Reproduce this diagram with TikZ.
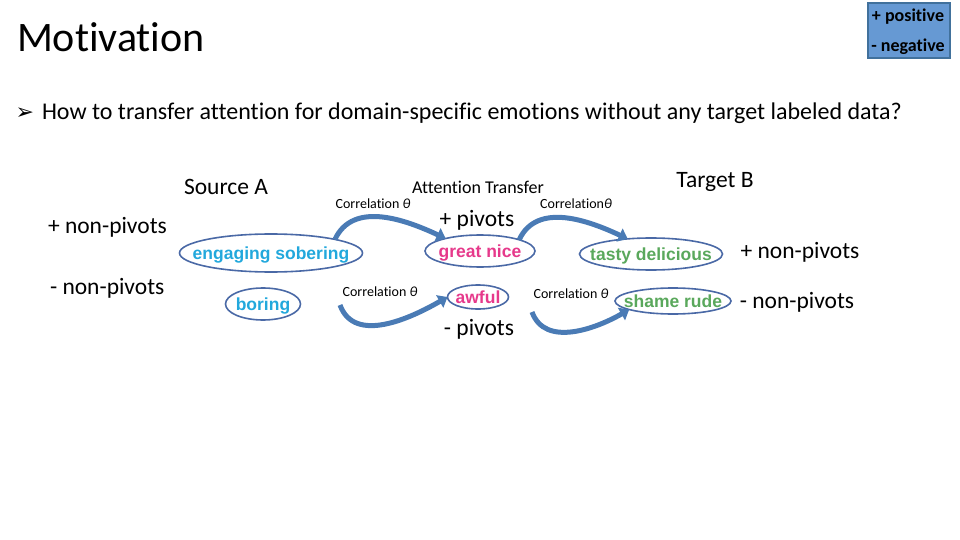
\documentclass[tikz,border=0pt]{standalone}
\usepackage{fontspec}
\setmainfont{Carlito}[Ligatures=NoCommon]
\newfontfamily\arialfont{Liberation Sans}
\newfontfamily\symfont{DejaVu Sans}
\usepackage{tikz}
\usetikzlibrary{positioning}
\usetikzlibrary{arrows.meta}
\usetikzlibrary{shapes.geometric}

\definecolor{boxblue}{HTML}{6699D3}
\definecolor{boxedge}{HTML}{41719C}
\definecolor{arcblue}{HTML}{4A7BB5}
\definecolor{elledge}{HTML}{4A69A6}
\definecolor{srcword}{HTML}{22A8DC}
\definecolor{pivword}{HTML}{E6398B}
\definecolor{tgtword}{HTML}{5AA85C}

% text kept out of the ellipse size
\newcommand{\inell}[1]{\makebox[0pt]{\raisebox{-.36em}[0pt][0pt]{#1}}}

\begin{document}
\begin{tikzpicture}[x=1pt, y=1pt]
% -------------------------------------------------
\tikzset{
  base/.style={inner sep=0pt, outer sep=0pt},
  head/.style={base, font=\fontsize{42}{50}\selectfont},
  bull/.style={base, font=\fontsize{24}{28}\selectfont},
  lbl/.style={base, font=\fontsize{23.5}{28}\selectfont},
  corr/.style={base, font=\fontsize{14}{17}\selectfont},
  elli/.style={base, draw=elledge, line width=1.6pt, ellipse,
    font=\arialfont\bfseries\fontsize{17.5}{20}\selectfont},
  line/.style={draw=arcblue, line width=5pt,
    -{Triangle[length=9pt, width=14pt]}}
}
\useasboundingbox (0,0) rectangle (960,-540);
% ------------------------------------------------- title and legend
\node [head, anchor=base west] (title) at (17,-52) {Motivation};
\node [base, draw=boxedge, fill=boxblue, line width=1.2pt,
       minimum width=82pt, minimum height=55pt] (legend) at (909,-30.5) {};
\node [base, anchor=base, font=\bfseries\fontsize{18}{21}\selectfont]
      (pos) at (908,-22) {+ positive};
\node [base, anchor=base, font=\bfseries\fontsize{18}{21}\selectfont]
      (neg) at (908,-52) {- negative};
\node [bull, anchor=base west] (quest) at (42,-120)
      {How to transfer attention for domain-specific emotions without any target labeled data?};
\node [base, font=\symfont\fontsize{22}{24}\selectfont, left=8pt of quest.west] (tick) {➢};
% ------------------------------------------------- headings
\node [lbl] (srcA) at (226,-187) {Source A};
\node [base, font=\fontsize{18}{21}\selectfont] (attn) at (478,-187) {Attention Transfer};
\node [lbl] (tgtB) at (715,-182) {Target B};
\node [lbl, anchor=base west] (lpos) at (48,-233) {+ non-pivots};
\node [lbl, anchor=base west] (lneg) at (50,-294) {- non-pivots};
\node [lbl] (ppos) at (477,-220) {+ pivots};
\node [lbl] (pneg) at (479,-329) {- pivots};
\node [lbl] (rpos) at (800,-252) {+ non-pivots};
\node [lbl] (rneg) at (797,-302) {- non-pivots};
% ------------------------------------------------- words
\node [elli, text=srcword, minimum width=183pt, minimum height=38pt] (eng) at (271,-253) {\inell{engaging sobering}};
\node [elli, text=srcword, minimum width=75pt, minimum height=32pt] (bor) at (263,-304) {\inell{boring}};
\node [elli, text=pivword, minimum width=110pt, minimum height=32pt] (gre) at (480,-251) {\inell{great nice}};
\node [elli, text=pivword, minimum width=61pt, minimum height=24pt] (awf) at (478,-297) {\inell{awful}};
\node [elli, text=tgtword, minimum width=143pt, minimum height=32pt] (tas) at (651,-254) {\inell{tasty delicious}};
\node [elli, text=tgtword, minimum width=116pt, minimum height=26pt] (sha) at (673,-301) {\inell{shame rude}};
% ------------------------------------------------- correlations
\node [corr] (c1) at (373,-204) {Correlation \textit{θ}};
\node [corr] (c2) at (380,-292) {Correlation \textit{θ}};
\node [corr] (c3) at (576,-204) {Correlation\textit{θ}};
\node [corr] (c4) at (571,-294) {Correlation \textit{θ}};
\coordinate (s2) at (340,-305);
\coordinate (s4) at (532,-312);
\path [line] (eng.12) to[out=65, in=155] (gre.160);
\path [line] (s2) to[out=-70, in=-150] (awf.west);
\path [line] (gre.16) to[out=65, in=155] (tas.147);
\path [line] (s4) to[out=-70, in=-150] (sha.191);
\end{tikzpicture}
\end{document}
